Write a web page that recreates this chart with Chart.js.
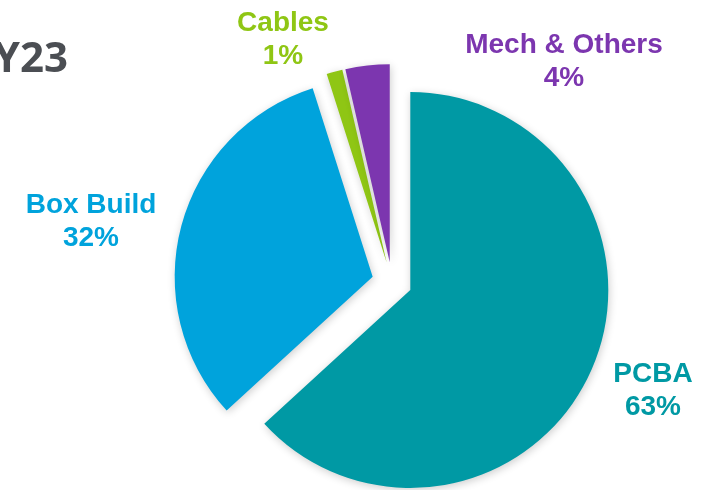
<!DOCTYPE html>
<html>
<head>
<meta charset="utf-8">
<script src="https://cdn.jsdelivr.net/npm/chart.js@4/dist/chart.umd.min.js"></script>
<style>
    html, body { margin: 0; padding: 0; background: #ffffff; }
    #wrap { width: 708px; height: 490px; position: relative; }
</style>
</head>
<body>
<div id="wrap"><canvas id="mixChart"></canvas></div>
<script>
// Revenue mix by product line (slice sizes, labels as printed)
const categories = ['PCBA', 'Box Build', 'Cables', 'Mech & Others'];
const shares = [63.2, 31.9, 1.3, 3.6];
const shareLabels = ['63%', '32%', '1%', '4%'];
const sliceColors = ['#0099A4', '#00A3DC', '#8FC614', '#7C36AF'];
const chartTitle = 'FY23';

// where each label sits (centre x, first baseline y)
const labelSpots = [
    { x: 653, y: 382 },
    { x: 91, y: 213 },
    { x: 283, y: 31 },
    { x: 564, y: 53 }
];

const FONT = '"Liberation Sans", Arial, sans-serif';
const PIE_RADIUS = 198;
const EXPLODE = 80; // chart.js moves a slice by offset / 4

// when exploded, chart.js grows each slice by (offset/4)*fix and trims its
// angle a bit; undo both so every slice keeps the same radius and true angle
const evenRadiusPlugin = {
    id: 'evenRadius',
    afterDatasetUpdate(chart, args) {
        args.meta.data.forEach(arc => {
            const fix = 1 - Math.sin(Math.min(Math.PI, arc.circumference));
            const grow = (EXPLODE / 4) * fix;
            arc.outerRadius = PIE_RADIUS - grow;
            const trim = grow / Math.PI / (2 * PIE_RADIUS);
            arc.startAngle -= trim;
            arc.endAngle += trim;
        });
    }
};

// soft shadow under the slices, like the slide
const shadowPlugin = {
    id: 'sliceShadow',
    beforeDatasetsDraw(chart) {
        const ctx = chart.ctx;
        ctx.save();
        ctx.shadowColor = 'rgba(0, 0, 0, 0.2)';
        ctx.shadowBlur = 9;
        ctx.shadowOffsetX = 1;
        ctx.shadowOffsetY = 2;
    },
    afterDatasetsDraw(chart) {
        chart.ctx.restore();
    }
};

// category name + percentage, two lines, coloured like the slice
const labelPlugin = {
    id: 'sliceLabels',
    afterDraw(chart) {
        const ctx = chart.ctx;
        ctx.save();
        ctx.font = 'bold 28px ' + FONT;
        ctx.textAlign = 'center';
        ctx.textBaseline = 'alphabetic';
        categories.forEach((name, i) => {
            const spot = labelSpots[i];
            ctx.fillStyle = sliceColors[i];
            ctx.fillText(name, spot.x, spot.y);
            ctx.fillText(shareLabels[i], spot.x, spot.y + 33);
        });

        // title, partly off the left edge
        ctx.font = 'bold 42px "Open Sans", ' + FONT;
        ctx.fillStyle = '#4B4E53';
        ctx.textAlign = 'right';
        ctx.fillText(chartTitle, 68, 72);
        ctx.restore();
    }
};

const ctx = document.getElementById('mixChart').getContext('2d');

new Chart(ctx, {
    type: 'pie',
    data: {
        labels: categories,
        datasets: [{
            data: shares,
            backgroundColor: sliceColors,
            borderWidth: 0,
            offset: EXPLODE,
            hoverOffset: 0
        }]
    },
    options: {
        responsive: true,
        maintainAspectRatio: false,
        animation: false,
        radius: PIE_RADIUS,
        layout: {
            padding: { top: 74, bottom: 0, left: 76, right: 0 }
        },
        plugins: {
            legend: { display: false },
            tooltip: { enabled: false }
        }
    },
    plugins: [evenRadiusPlugin, shadowPlugin, labelPlugin]
});
</script>
</body>
</html>
